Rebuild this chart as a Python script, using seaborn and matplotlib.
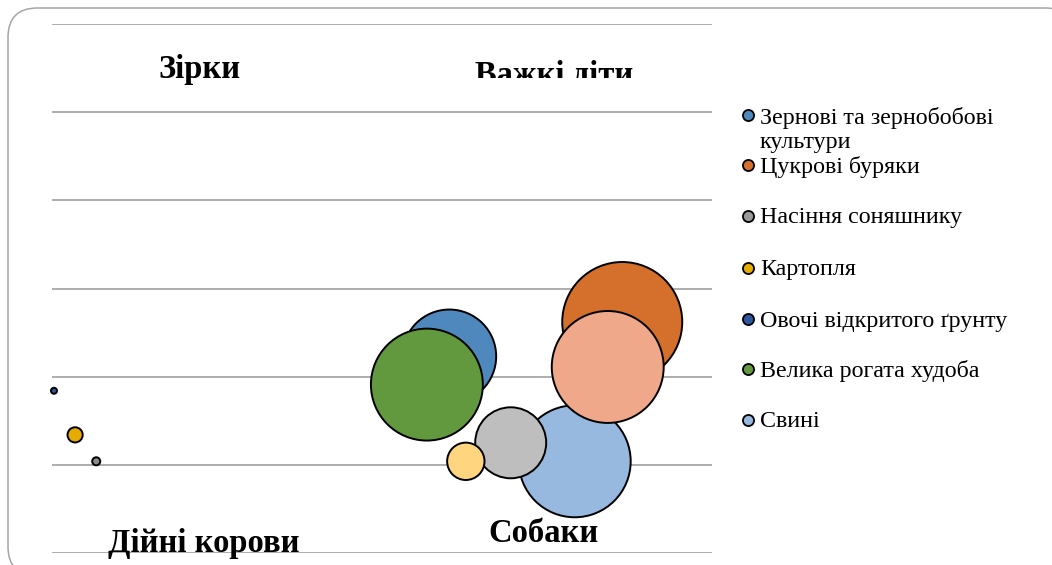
import matplotlib
matplotlib.use("Agg")
import matplotlib.pyplot as plt
from matplotlib.patches import FancyBboxPatch
from matplotlib.lines import Line2D
from matplotlib.transforms import Bbox
import seaborn as sns
import pandas as pd

# Legend series (name, colour)
series_names = [
    "Зернові та зернобобові\nкультури",
    "Цукрові буряки",
    "Насіння соняшнику",
    "Картопля",
    "Овочі відкритого ґрунту",
    "Велика рогата худоба",
    "Свині",
]
series_colors = ["#4E88BC", "#D5702C", "#999999", "#E6AC00", "#2E57A0", "#62993E", "#98B9DF"]

# Bubbles, in drawing order: position, relative size, fill colour
point_x = [0.3, 3.5, 6.7, 60.2, 86.4, 79.2, 69.5, 62.7, 56.8, 84.2]
point_y = [18.4, 13.4, 10.4, 22.3, 26.2, 10.4, 12.5, 10.4, 19.1, 21.1]
point_size = [0.25, 1.6, 0.45, 61, 100, 87, 35, 9.7, 87, 87]
point_color = ["#2E57A0", "#E6AC00", "#8C8C8C", "#4E88BC", "#D5702C",
               "#98B9DF", "#BEBEBE", "#FFD580", "#62993E", "#F0A88A"]

# Quadrant captions
quadrants = ["Зірки", "Важкі діти", "Дійні корови", "Собаки"]

W, H = 1052, 565
fig = plt.figure(figsize=(W / 100, H / 100), dpi=100)
sns.set_style("white")
plt.rcParams["font.family"] = ["Liberation Serif", "DejaVu Serif"]

# rounded frame around the chart
frame = FancyBboxPatch((8 / W, (H - 576) / H), (1075 - 8) / W, (576 - 8) / H,
                       boxstyle="round,pad=0,rounding_size=0.028",
                       transform=fig.transFigure, facecolor="white",
                       edgecolor="#A6A6A6", linewidth=1.1, zorder=0,
                       mutation_aspect=W / H)
fig.add_artist(frame)

ax = fig.add_axes([52 / W, (H - 553) / H, (712 - 52) / W, (553 - 24) / H])
ax.set_facecolor("none")

df = pd.DataFrame({"x": point_x, "y": point_y, "v": point_size, "c": point_color})
max_area = (2 * 60 * 0.72) ** 2
sns.scatterplot(data=df, x="x", y="y", hue="c", size="v",
                palette={c: c for c in point_color},
                sizes=(0, max_area), size_norm=(0, 100),
                edgecolor="black", linewidth=1.4, alpha=1,
                legend=False, ax=ax, clip_on=False)

ax.set_xlim(0, 100)
ax.set_ylim(0, 60)
ax.set_yticks(range(0, 61, 10))
ax.set_xticks([])
ax.tick_params(left=False, labelleft=False)
ax.grid(axis="y", color="#A0A0A0", linewidth=1.2)
ax.set_axisbelow(True)
for s in ax.spines.values():
    s.set_visible(False)
ax.set_xlabel("")
ax.set_ylabel("")


def fx(px):
    return px / W


def fy(py):
    return 1 - py / H


bold = dict(fontsize=23.5, fontweight="bold", ha="center", va="baseline", color="black")
fig.text(fx(200), fy(78), quadrants[0], **bold)
t = fig.text(fx(554), fy(84), quadrants[1], **bold)
t.set_clip_box(Bbox.from_extents(0, H - 78, W, H))
t.set_clip_on(True)
fig.text(fx(204), fy(552), quadrants[2], **bold)
fig.text(fx(544), fy(542), quadrants[3], **bold)

# legend
marker_y = [115, 165, 216, 268, 319, 369, 420]
text_baseline = [148, 173, 223, 275, 327, 377, 427]
for name, col, my, tb in zip(series_names, series_colors, marker_y, text_baseline):
    fig.add_artist(Line2D([fx(748)], [fy(my)], marker="o", markersize=8,
                          markerfacecolor=col, markeredgecolor="black",
                          markeredgewidth=1.3, linestyle="none",
                          transform=fig.transFigure))
    fig.text(fx(760), fy(tb), name, fontsize=17.3, ha="left", va="baseline",
             color="black", linespacing=1.18)

fig.savefig("out.png", dpi=100)
